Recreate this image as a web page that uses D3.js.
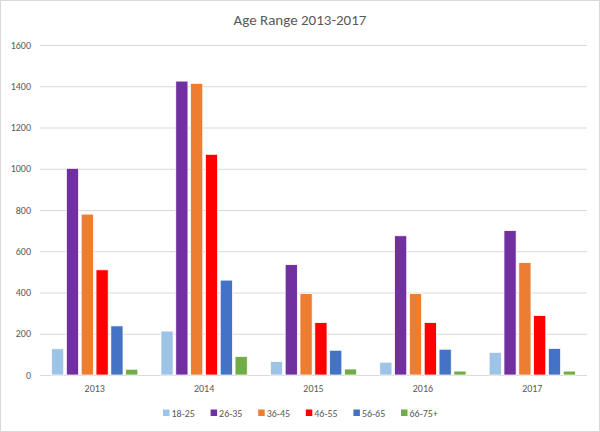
<!DOCTYPE html>
<html><head><meta charset="utf-8">
<script src="https://cdn.jsdelivr.net/npm/d3@7"></script>
<style>body{margin:0;background:#fff}svg{display:block}</style>
</head><body>
<svg id="c" width="600" height="432"></svg>
<script>
const years = ["2013","2014","2015","2016","2017"];
const series = ["18-25","26-35","36-45","46-55","56-65","66-75+"];
const v1825 = [127, 213, 65, 62, 110];
const v2635 = [1002, 1425, 535, 675, 700];
const v3645 = [780, 1414, 395, 395, 545];
const v4655 = [510, 1070, 254, 254, 288];
const v5665 = [238, 460, 120, 125, 129];
const v6675 = [28, 90, 29, 19, 19];
const yTicks = [0,200,400,600,800,1000,1200,1400,1600];
const colors = ["#9DC3E6","#7030A0","#ED7D31","#FF0000","#4472C4","#70AD47"];
const values = [v1825, v2635, v3645, v4655, v5665, v6675];

const svg = d3.select("#c");
const font = "Carlito, Calibri, 'Open Sans', sans-serif";
svg.append("rect").attr("x",0.5).attr("y",0.5).attr("width",599).attr("height",431)
  .attr("fill","#fff").attr("stroke","#d9d9d9");

const x0 = d3.scaleBand().domain(years).range([40,587]).paddingInner(0).paddingOuter(0);
const x1 = d3.scaleBand().domain(series).range([0, x0.bandwidth()]).paddingOuter(0.78).paddingInner(0.18);
const y = d3.scaleLinear().domain([0,1600]).range([375,45]);

const grid = svg.append("g");
grid.selectAll("line").data(yTicks).join("line")
  .attr("x1",40).attr("x2",587).attr("y1",d=>y(d)+0.5).attr("y2",d=>y(d)+0.5)
  .attr("stroke","#d9d9d9").attr("stroke-width",1);

const yAxis = d3.axisLeft(y).tickValues(yTicks).tickFormat(d3.format("d")).tickSize(0).tickPadding(9);
svg.append("g").attr("transform","translate(40,0)").call(yAxis)
  .call(g=>g.select(".domain").remove())
  .selectAll("text").attr("fill","#595959").attr("font-size","10px").attr("font-family",font);

const xAxis = d3.axisBottom(x0).tickSize(0).tickPadding(10);
svg.append("g").attr("transform","translate(0,375)").call(xAxis)
  .call(g=>g.select(".domain").remove())
  .selectAll("text").attr("fill","#595959").attr("font-size","10px").attr("font-family",font);

const groups = svg.append("g").selectAll("g").data(years).join("g")
  .attr("transform",d=>`translate(${x0(d)},0)`);
groups.selectAll("rect").data((d,i)=>series.map((s,j)=>({s, v: values[j][i], c: colors[j]}))).join("rect")
  .attr("x",d=>x1(d.s)).attr("width",x1.bandwidth())
  .attr("y",d=>y(d.v)).attr("height",d=>y(0)-y(d.v))
  .attr("fill",d=>d.c).attr("stroke","#fff").attr("stroke-width",0.75);

svg.append("text").attr("x",300).attr("y",25).attr("text-anchor","middle")
  .attr("font-size","15px").attr("fill","#595959").attr("font-family",font).text("Age Range 2013-2017");

const leg = svg.append("g").selectAll("g").data(series).join("g")
  .attr("transform",(d,i)=>`translate(${163+i*47.6},413)`);
leg.append("rect").attr("x",0).attr("y",-3.5).attr("width",6.5).attr("height",6.5).attr("fill",(d,i)=>colors[i]);
leg.append("text").attr("x",8.5).attr("y",3.5).attr("font-size","10px").attr("fill","#595959")
  .attr("font-family",font).text(d=>d);
</script>
</body></html>
